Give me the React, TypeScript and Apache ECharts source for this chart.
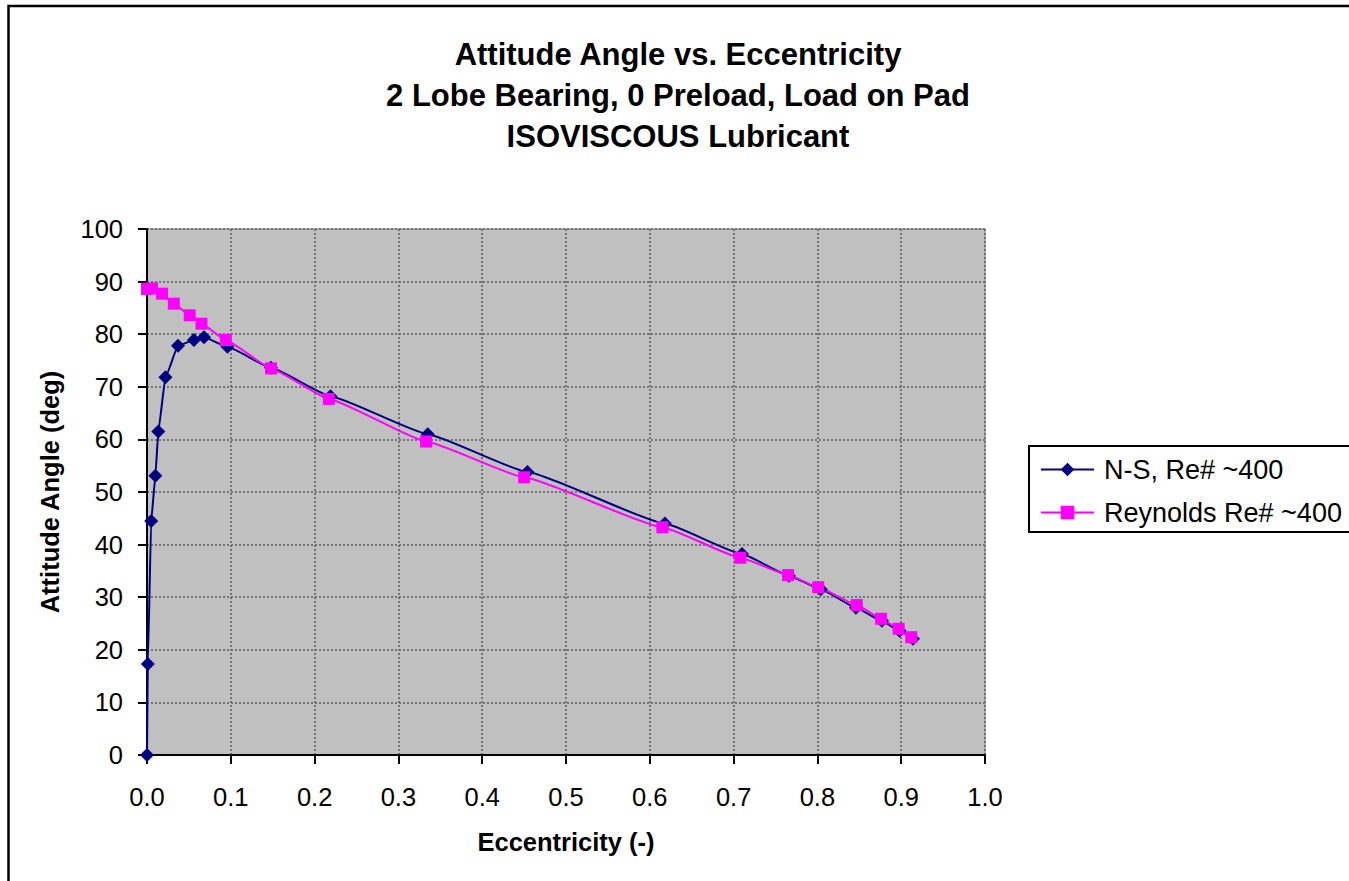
import React, { useEffect, useRef } from "react";
import * as echarts from "echarts";

const titleLines = [
  "Attitude Angle vs. Eccentricity",
  "2 Lobe Bearing, 0 Preload, Load on Pad",
  "ISOVISCOUS Lubricant",
];
const xAxisName = "Eccentricity (-)";
const yAxisName = "Attitude Angle (deg)";

const nsName = "N-S, Re# ~400";
const nsEcc = [0, 0.001, 0.005, 0.010, 0.0135, 0.022, 0.037, 0.056, 0.068, 0.096, 0.148, 0.219, 0.335, 0.454, 0.618, 0.710, 0.766, 0.804, 0.846, 0.877, 0.898, 0.914];
const nsAngle = [0, 17.3, 44.5, 53.1, 61.5, 71.8, 77.8, 78.9, 79.4, 77.6, 73.6, 68.2, 61.0, 53.8, 44.0, 38.2, 34.1, 31.5, 28.0, 25.5, 23.6, 22.1];

const reName = "Reynolds Re# ~400";
const reEcc = [0.0, 0.006, 0.018, 0.032, 0.051, 0.065, 0.094, 0.148, 0.217, 0.333, 0.450, 0.615, 0.708, 0.765, 0.801, 0.847, 0.876, 0.897, 0.912];
const reAngle = [88.6, 88.7, 87.7, 85.8, 83.6, 82.0, 78.9, 73.5, 67.7, 59.6, 52.8, 43.3, 37.5, 34.2, 31.9, 28.5, 25.9, 24.0, 22.4];

const FONT = "'Liberation Sans', Arial, Helvetica, sans-serif";

export default function App() {
  const ref = useRef<HTMLDivElement>(null);
  useEffect(() => {
    if (!ref.current) return;
    const chart = echarts.init(ref.current, null, { renderer: "svg" });
    const zip = (xs: number[], ys: number[]) => xs.map((x, i) => [x, ys[i]]);
    chart.setOption({
      animation: false,
      backgroundColor: "#ffffff",
      textStyle: { fontFamily: FONT },
      title: {
        text: titleLines.join("\n"),
        left: 678,
        top: 34,
        padding: 0,
        textAlign: "center",
        textStyle: {
          fontFamily: FONT,
          fontSize: 31,
          fontWeight: "bold",
          color: "#000",
          lineHeight: 41,
        },
      },
      graphic: [
        {
          type: "rect",
          shape: { x: 8.5, y: 6, width: 2000, height: 2000 },
          style: { fill: "none", stroke: "#000", lineWidth: 2.5 },
          silent: true,
        },
      ],
      legend: {
        orient: "vertical",
        left: 1029,
        top: 446,
        padding: [8, 60, 4, 11],
        itemGap: 12,
        itemWidth: 53,
        itemHeight: 17,
        borderColor: "#000",
        borderWidth: 2,
        backgroundColor: "#fff",
        textStyle: {
          fontFamily: FONT,
          fontSize: 27,
          color: "#000",
          lineHeight: 31,
          padding: [0, 0, 0, 5],
        },
        data: [nsName, reName],
      },
      grid: {
        left: 147,
        top: 229,
        width: 838,
        height: 526,
        show: true,
        backgroundColor: "#c0c0c0",
        borderColor: "#808080",
        borderWidth: 1,
        containLabel: false,
      },
      xAxis: {
        type: "value",
        min: 0,
        max: 1,
        interval: 0.1,
        name: xAxisName,
        nameLocation: "middle",
        nameGap: 74,
        nameTextStyle: { fontFamily: FONT, fontSize: 25.5, fontWeight: "bold", color: "#000" },
        axisLine: { show: true, onZero: false, lineStyle: { color: "#000", width: 2 } },
        axisTick: { show: true, inside: false, length: 9, lineStyle: { color: "#000", width: 2 } },
        axisLabel: {
          margin: 29,
          fontFamily: FONT,
          fontSize: 25.5,
          color: "#000",
          formatter: (v: number) => v.toFixed(1),
        },
        splitLine: { show: true, lineStyle: { color: "#737373", width: 2, type: [2, 2] } },
      },
      yAxis: {
        type: "value",
        min: 0,
        max: 100,
        interval: 10,
        name: yAxisName,
        nameLocation: "middle",
        nameGap: 84,
        nameRotate: 90,
        nameTextStyle: { fontFamily: FONT, fontSize: 25.5, fontWeight: "bold", color: "#000" },
        axisLine: { show: true, onZero: false, lineStyle: { color: "#000", width: 2 } },
        axisTick: { show: true, inside: false, length: 9, lineStyle: { color: "#000", width: 2 } },
        axisLabel: { margin: 24, fontFamily: FONT, fontSize: 25.5, color: "#000" },
        splitLine: { show: true, lineStyle: { color: "#737373", width: 2, type: [2, 2] } },
      },
      series: [
        {
          name: nsName,
          type: "line",
          data: zip(nsEcc, nsAngle),
          smooth: 0.12,
          smoothMonotone: "x",
          symbol: "diamond",
          symbolSize: 14,
          showAllSymbol: true,
          lineStyle: { color: "#000080", width: 2 },
          itemStyle: { color: "#000080", borderWidth: 0 },
          emphasis: { disabled: true },
        },
        {
          name: reName,
          type: "line",
          data: zip(reEcc, reAngle),
          smooth: 0.12,
          smoothMonotone: "x",
          symbol: "rect",
          symbolSize: 12,
          showAllSymbol: true,
          lineStyle: { color: "#ff00ff", width: 2 },
          itemStyle: { color: "#ff00ff", borderWidth: 0 },
          emphasis: { disabled: true },
        },
      ],
    });
    return () => chart.dispose();
  }, []);
  return (
    <div
      ref={ref}
      style={{ position: "absolute", left: 0, top: 0, width: 1349, height: 881, overflow: "hidden" }}
    />
  );
}
